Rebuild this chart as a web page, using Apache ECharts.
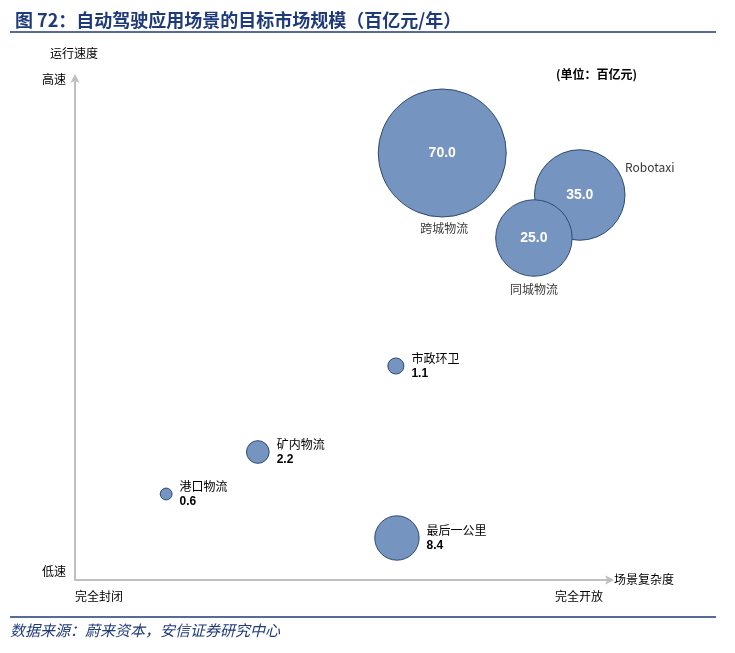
<!DOCTYPE html>
<html>
<head>
<meta charset="utf-8">
<script src="https://cdn.jsdelivr.net/npm/echarts@6/dist/echarts.min.js"></script>
<style>
html,body{margin:0;padding:0;background:#fff;}
#main{width:735px;height:653px;}
</style>
</head>
<body>
<div id="main"></div>
<script>
// 场景数据
var names = ['跨城物流', 'Robotaxi', '同城物流', '市政环卫', '矿内物流', '港口物流', '最后一公里'];
var sizes = [70.0, 35.0, 25.0, 1.1, 2.2, 0.6, 8.4];
var complexity = [68.9, 94.7, 86.1, 60.2, 34.3, 17.1, 60.4];   // 场景复杂度 0~100
var speed = [85.4, 77.0, 68.4, 42.8, 25.6, 17.2, 8.4];        // 运行速度 0~100

var fontCn = '"Noto Sans CJK SC", "Liberation Sans", sans-serif';
var navy = '#1F3A7A';

var chart = echarts.init(document.getElementById('main'));

var bubbleData = [];
var nameData = [];
for (var i = 0; i < names.length; i++) {
	var big = sizes[i] >= 20;
	bubbleData.push({
		name: names[i],
		value: [complexity[i], speed[i], sizes[i]],
		label: big ? {
			show: true,
			position: 'inside',
			formatter: function(p){ return p.value[2].toFixed(1); },
			color: '#fff',
			fontSize: 14,
			fontWeight: 'bold',
			fontFamily: 'Liberation Sans, Arial, sans-serif'
		} : {
			show: true,
			position: 'right',
			distance: 7,
			formatter: function(p){ return '{n|' + p.name + '}\n{v|' + p.value[2].toFixed(1) + '}'; },
			rich: {
				n: {fontSize: 12, color: '#000', fontFamily: fontCn, lineHeight: 16},
				v: {fontSize: 12, color: '#000', fontWeight: 'bold', fontFamily: 'Liberation Sans, Arial, sans-serif', lineHeight: 16}
			}
		}
	});
	if (big) {
		nameData.push({name: names[i], value: [complexity[i], speed[i]]});
	}
}
// 大气泡名称标签的偏移
var nameOffsets = {'跨城物流': [2, 75], 'Robotaxi': [70, -28], '同城物流': [0, 51]};
nameData.forEach(function(d){
	d.label = {show: true, position: 'inside', offset: nameOffsets[d.name], formatter: '{b}'};
});

var option = {
	animation: false,
	backgroundColor: '#fff',
	title: {
		text: '图 72：自动驾驶应用场景的目标市场规模（百亿元/年）',
		left: 10,
		top: 6,
		textStyle: {color: navy, fontSize: 18, fontWeight: 'bold', fontFamily: fontCn}
	},
	grid: {left: 75, right: 127, top: 80, bottom: 73},
	xAxis: {
		type: 'value', min: 0, max: 100,
		axisLine: {show: true, lineStyle: {color: '#BFBFBF', width: 2}, symbol: ['none', 'arrow'], symbolSize: [7, 9], symbolOffset: [0, 6]},
		axisTick: {show: false}, axisLabel: {show: false}, splitLine: {show: false}
	},
	yAxis: {
		type: 'value', min: 0, max: 100,
		axisLine: {show: true, lineStyle: {color: '#BFBFBF', width: 2}, symbol: ['none', 'arrow'], symbolSize: [7, 9], symbolOffset: [0, 6]},
		axisTick: {show: false}, axisLabel: {show: false}, splitLine: {show: false}
	},
	series: [{
		type: 'scatter',
		data: bubbleData,
		symbolSize: function(v){ return 15.3 * Math.sqrt(v[2]); },
		itemStyle: {color: '#7594C0', borderColor: '#2E4A72', borderWidth: 1, opacity: 1},
		z: 2
	}, {
		type: 'scatter',
		data: nameData,
		symbolSize: 0,
		silent: true,
		label: {color: '#000', fontSize: 12, fontFamily: fontCn},
		z: 3
	}],
	graphic: [
		{type: 'line', shape: {x1: 10, y1: 32, x2: 716, y2: 32}, style: {stroke: navy, lineWidth: 1.5}},
		{type: 'line', shape: {x1: 10, y1: 617, x2: 716, y2: 617}, style: {stroke: navy, lineWidth: 1.5}},
		{type: 'text', left: 10, top: 623, style: {text: '数据来源：蔚来资本，安信证券研究中心', fill: navy, font: 'italic 15px ' + fontCn}},
		{type: 'text', left: 50, top: 47, style: {text: '运行速度', fill: '#000', font: '12px ' + fontCn}},
		{type: 'text', left: 42, top: 73, style: {text: '高速', fill: '#000', font: '12px ' + fontCn}},
		{type: 'text', left: 42, top: 565, style: {text: '低速', fill: '#000', font: '12px ' + fontCn}},
		{type: 'text', left: 75, top: 590, style: {text: '完全封闭', fill: '#000', font: '12px ' + fontCn}},
		{type: 'text', left: 555, top: 590, style: {text: '完全开放', fill: '#000', font: '12px ' + fontCn}},
		{type: 'text', left: 614, top: 573, style: {text: '场景复杂度', fill: '#000', font: '12px ' + fontCn}},
		{type: 'text', left: 556, top: 68, style: {text: '(单位：百亿元)', fill: '#000', font: 'bold 12px ' + fontCn}}
	]
};
chart.setOption(option);
</script>
</body>
</html>
